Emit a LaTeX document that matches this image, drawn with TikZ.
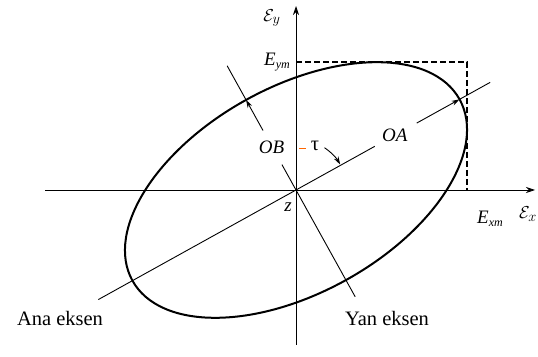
\documentclass[tikz,border=0pt]{standalone}
\usepackage{fontspec}
\setmainfont{Liberation Serif}
\usetikzlibrary{arrows.meta,calc}
\begin{document}
\begin{tikzpicture}[x=1pt,y=1pt,
  axis/.style={line width=0.8pt,-{Stealth[length=9pt,width=6pt]}},
  thin line/.style={line width=0.9pt},
  ptr/.style={line width=0.9pt,-{Stealth[length=8pt,width=5pt]}},
  lbl/.style={font=\fontsize{20.5}{24}\selectfont,inner sep=0pt},
  mlbl/.style={font=\fontsize{19}{22}\selectfont\itshape,inner sep=0pt}]
\useasboundingbox (0,0) rectangle (538,356);
\coordinate (O) at (296,166);
% axes
\coordinate (xs) at (45,166);
\coordinate (xe) at (535,166);
\coordinate (ys) at (296,11);
\coordinate (ye) at (296,350);
\draw[axis] (xs) -- (xe);
\draw[axis] (ys) -- (ye);
% dashed box
\coordinate (d1) at (296,294);
\coordinate (d2) at (467,294);
\coordinate (d3) at (467,166);
\draw[line width=1.2pt,dash pattern=on 6pt off 3pt] (d1) -- (d2) -- (d3);
% ellipse
\draw[line width=2pt,rotate around={29:(O)}] (O) ellipse [x radius=187pt, y radius=103pt];
% major axis
\coordinate (ma1) at ($(O)+(209:226)$);
\coordinate (ma2) at ($(O)+(29:90)$);
\coordinate (ma3) at ($(O)+(29:138)$);
\coordinate (ma4) at ($(O)+(29:187)$);
\coordinate (ma5) at ($(O)+(29:222)$);
\draw[thin line] (ma1) -- (ma2);
\draw[ptr] (ma3) -- (ma4);
\draw[thin line] (ma4) -- (ma5);
\node[mlbl] (OA) at ($(O)+(29:113)$) {OA};
% minor axis
\coordinate (mi1) at ($(O)+(119:142)$);
\coordinate (mi2) at ($(O)+(119:103)$);
\coordinate (mi3) at ($(O)+(119:68)$);
\coordinate (mi4) at ($(O)+(119:29)$);
\coordinate (mi5) at ($(O)+(-61:122)$);
\draw[thin line] (mi1) -- (mi2);
\draw[ptr] (mi3) -- (mi2);
\draw[thin line] (mi4) -- (mi5);
\node[mlbl] (OB) at ($(O)+(120:49)$) {OB};
% tau
\coordinate (t1) at ($(O)+(56:51)$);
\draw[ptr] (t1) arc (56:30:51);
\coordinate (tk1) at (299,208);
\coordinate (tk2) at (306,208);
\draw[orange!80!red,line width=0.8pt] (tk1) -- (tk2);
\node[lbl] (tau) at (315,210) {τ};
% labels
\node[inner sep=0pt] (Ey) at (272,338) {\fontsize{19}{22}\selectfont$\mathcal{E}_{y}$};
\node[mlbl,anchor=east] (Eym) at (290,294) {E\raisebox{-3pt}{\fontsize{12}{14}\selectfont ym}};
\node[mlbl] (Exm) at (490,137) {E\raisebox{-3pt}{\fontsize{12}{14}\selectfont xm}};
\node[inner sep=0pt,anchor=east] (Ex) at (537,142) {\fontsize{19}{22}\selectfont$\mathcal{E}_{x}$};
\node[mlbl] (z) at (288,149) {z};
\node[lbl] (ana) at (60,38) {Ana eksen};
\node[lbl] (yan) at (387,38) {Yan eksen};
\end{tikzpicture}
\end{document}
